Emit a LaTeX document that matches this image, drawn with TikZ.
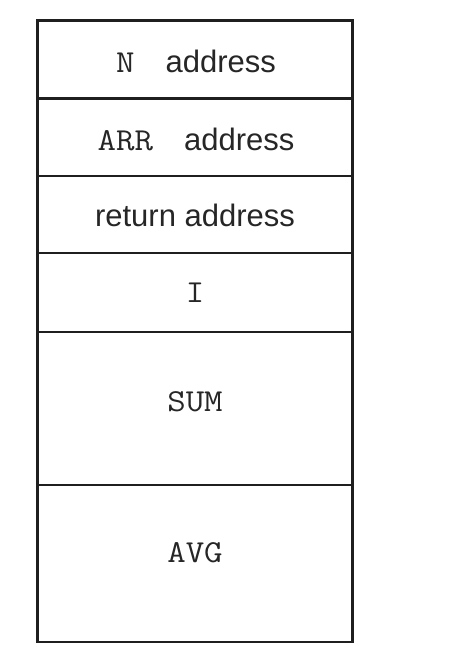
\documentclass[tikz,border=0pt]{standalone}
\usepackage{fontspec}
\setmainfont{Liberation Sans}
\newcommand{\mt}[1]{\scalebox{1.12}[1]{\fontsize{32}{36}\ttfamily #1}}
\begin{document}
\begin{tikzpicture}[x=1pt,y=-1pt,
  cell/.style={draw=black!88, line width=2.4pt, minimum width=315pt, inner sep=0pt, outer sep=0pt},
  lbl/.style={inner sep=0pt, font=\fontsize{31}{36}\selectfont, text=black!85}]
\useasboundingbox (0,0) rectangle (462,668);
\node[cell, minimum height=78pt] (n) at (195.1,59.7) {};
\node[cell, minimum height=77.3pt] (arr) at (195.1,137.35) {};
\node[cell, minimum height=76.7pt] (ret) at (195.1,214.35) {};
\node[cell, minimum height=79pt] (i) at (195.1,292.2) {};
\node[cell, minimum height=153.3pt] (sum) at (195.1,408.35) {};
\node[cell, minimum height=156.7pt] (avg) at (195.1,563.35) {};
\node[lbl] (tn) at (196,61) {\mt{N}\hspace{31pt}address};
\node[lbl] (tarr) at (196,139) {\mt{ARR}\hspace{31pt}address};
\node[lbl] (tret) at (195,215) {return address};
\node[lbl] (ti) at (195,293) {\mt{I}};
\node[lbl] (tsum) at (195,402) {\mt{SUM}};
\node[lbl] (tavg) at (195,553) {\mt{AVG}};
\end{tikzpicture}
\end{document}
